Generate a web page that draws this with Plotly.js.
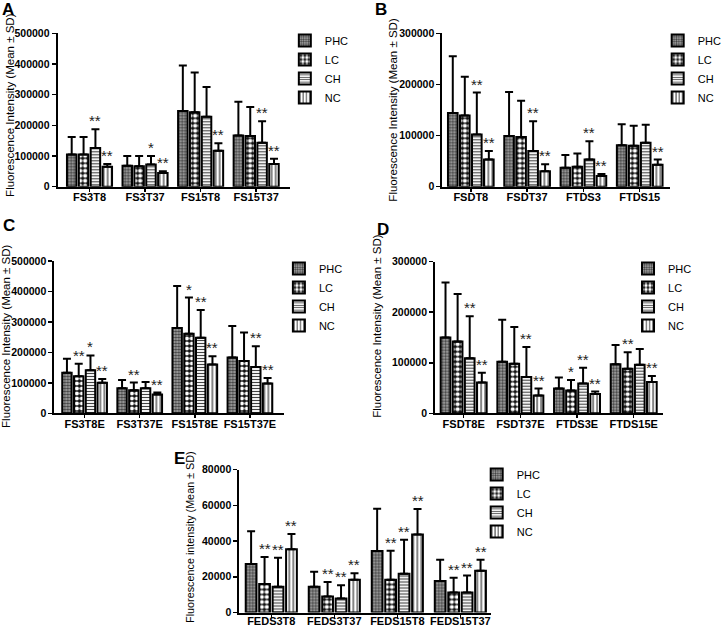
<!DOCTYPE html>
<html>
<head>
<meta charset="utf-8">
<script src="https://cdn.plot.ly/plotly-3.0.1.min.js"></script>
<style>html,body{margin:0;padding:0;background:#fff;}#chart{width:727px;height:628px;}</style>
</head>
<body>
<div id="chart"></div>
<script>
// ---------------- DATA ----------------
const groups = ['PHC', 'LC', 'CH', 'NC'];

const catsA = ['FS3T8', 'FS3T37', 'FS15T8', 'FS15T37'];
const A_PHC = [105000, 68000, 247000, 167000];
const A_PHC_sd = [57000, 32000, 148000, 110000];
const A_LC = [105000, 67000, 243000, 165000];
const A_LC_sd = [57000, 33000, 129000, 95000];
const A_CH = [126000, 72000, 228000, 143000];
const A_CH_sd = [61000, 28000, 97000, 70000];
const A_NC = [65000, 45000, 117000, 74000];
const A_NC_sd = [9000, 5000, 25000, 17000];
const A_stars = [['', '', '', ''], ['', '', '', ''], ['**', '*', '', '**'], ['**', '**', '**', '**']];

const catsB = ['FSDT8', 'FSDT37', 'FTDS3', 'FTDS15'];
const B_PHC = [144000, 99000, 37000, 81000];
const B_PHC_sd = [111000, 86000, 25000, 41000];
const B_LC = [139000, 97000, 39000, 80000];
const B_LC_sd = [76000, 71000, 26000, 39000];
const B_CH = [102000, 70000, 53000, 86000];
const B_CH_sd = [82000, 58000, 36000, 35000];
const B_NC = [53000, 30000, 21000, 43000];
const B_NC_sd = [17000, 14000, 4000, 10000];
const B_stars = [['', '', '', ''], ['', '', '', ''], ['**', '**', '**', ''], ['**', '**', '**', '**']];

const catsC = ['FS3T8E', 'FS3T37E', 'FS15T8E', 'FS15T37E'];
const C_PHC = [133000, 82000, 280000, 183000];
const C_PHC_sd = [46000, 27000, 138000, 104000];
const C_LC = [122000, 76000, 261000, 172000];
const C_LC_sd = [41000, 25000, 119000, 93000];
const C_CH = [141000, 82000, 248000, 152000];
const C_CH_sd = [49000, 21000, 91000, 68000];
const C_NC = [100000, 62000, 160000, 98000];
const C_NC_sd = [13000, 6000, 27000, 18000];
const C_stars = [['', '', '', ''], ['**', '**', '*', ''], ['*', '', '**', '**'], ['**', '**', '**', '**']];

const catsD = ['FSDT8E', 'FSDT37E', 'FTDS3E', 'FTDS15E'];
const D_PHC = [150000, 102000, 49000, 97000];
const D_PHC_sd = [109000, 83000, 22000, 38000];
const D_LC = [142000, 98000, 45000, 88000];
const D_LC_sd = [94000, 73000, 21000, 33000];
const D_CH = [109000, 72000, 59000, 96000];
const D_CH_sd = [83000, 59000, 31000, 31000];
const D_NC = [61000, 35000, 38000, 62000];
const D_NC_sd = [19000, 14000, 5000, 12000];
const D_stars = [['', '', '', ''], ['', '', '*', '**'], ['**', '**', '**', ''], ['**', '**', '**', '**']];

const catsE = ['FEDS3T8', 'FEDS3T37', 'FEDS15T8', 'FEDS15T37'];
const E_PHC = [27200, 14400, 34400, 17600];
const E_PHC_sd = [18200, 8400, 23700, 11900];
const E_LC = [15900, 8900, 18300, 11200];
const E_LC_sd = [15200, 8100, 16300, 8200];
const E_CH = [14400, 7800, 21700, 11200];
const E_CH_sd = [16200, 7400, 19000, 9500];
const E_NC = [35400, 18300, 43600, 23400];
const E_NC_sd = [8500, 3700, 14300, 6100];
const E_stars = [['', '', '', ''], ['**', '**', '**', '**'], ['**', '**', '**', '**'], ['**', '**', '**', '**']];

const yTicksA = [0, 100000, 200000, 300000, 400000, 500000];
const yTicksB = [0, 100000, 200000, 300000];
const yTicksE = [0, 20000, 40000, 60000, 80000];

// ---------------- STYLE / LAYOUT ----------------
const W = 727, H = 628;
const fx = p => p / W;
const fy = p => 1 - p / H;
const FONT = 'Liberation Sans, Arial, sans-serif';
const BARGAP = 0.146, BARGROUPGAP = 0.2;

const patterns = [
  {shape: '.', fgcolor: '#3c3c3c', bgcolor: '#b0b0b0', size: 3, solidity: 0.5},
  {shape: '.', fgcolor: '#ffffff', bgcolor: '#111111', size: 5, solidity: 0.55},
  {shape: '-', fgcolor: '#444444', bgcolor: '#f2f2f2', size: 3, solidity: 0.35},
  {shape: '|', fgcolor: '#333333', bgcolor: '#ffffff', size: 4, solidity: 0.3}
];

const panels = [
  {letter: 'A', cats: catsA, means: [A_PHC, A_LC, A_CH, A_NC], sds: [A_PHC_sd, A_LC_sd, A_CH_sd, A_NC_sd], stars: A_stars,
   yt: yTicksA, xpx: [58.3, 293.3], ypx: [186.7, 33.3], xr: [-0.573, 3.61], standoff: -4, tsize: 11.5,
   letterPos: [0, -2], titlePos: [10, 105], ytitle: 'Fluorescence Intensity (Mean ± SD)', legPos: [288, 26]},
  {letter: 'B', cats: catsB, means: [B_PHC, B_LC, B_CH, B_NC], sds: [B_PHC_sd, B_LC_sd, B_CH_sd, B_NC_sd], stars: B_stars,
   yt: yTicksB, xpx: [447.3, 677], ypx: [186.7, 33.3], xr: [-0.505, 3.53], standoff: -4, tsize: 11.5,
   letterPos: [377, -2], titlePos: [397, 110], ytitle: 'Fluorescence Intensity (Mean ± SD)', legPos: [665, 26]},
  {letter: 'C', cats: catsC, means: [C_PHC, C_LC, C_CH, C_NC], sds: [C_PHC_sd, C_LC_sd, C_CH_sd, C_NC_sd], stars: C_stars,
   yt: yTicksA, xpx: [55, 286.7], ypx: [413.3, 261], xr: [-0.548, 3.61], standoff: -4, tsize: 11.5,
   letterPos: [1, 214], titlePos: [6, 336], ytitle: 'Fluorescence Intensity (Mean ± SD)', legPos: [282, 254]},
  {letter: 'D', cats: catsD, means: [D_PHC, D_LC, D_CH, D_NC], sds: [D_PHC_sd, D_LC_sd, D_CH_sd, D_NC_sd], stars: D_stars,
   yt: yTicksB, xpx: [440, 670], ypx: [413.3, 261.7], xr: [-0.503, 3.51], standoff: -4, tsize: 11.5,
   letterPos: [379, 218], titlePos: [381, 326], ytitle: 'Fluorescence Intensity (Mean ± SD)', legPos: [635, 254]},
  {letter: 'E', cats: catsE, means: [E_PHC, E_LC, E_CH, E_NC], sds: [E_PHC_sd, E_LC_sd, E_CH_sd, E_NC_sd], stars: E_stars,
   yt: yTicksE, xpx: [242, 496.7], ypx: [612.5, 469.5], xr: [-0.507, 3.49], standoff: -6, tsize: 10.8,
   letterPos: [174, 447], titlePos: [192, 537], ytitle: 'Fluorescence intensity (Mean ± SD)', legPos: [482, 460]}
];

const traces = [];
const annotations = [];
const layout = {
  width: W, height: H,
  margin: {l: 0, r: 0, t: 0, b: 0},
  paper_bgcolor: '#ffffff', plot_bgcolor: 'rgba(0,0,0,0)',
  barmode: 'group', bargap: BARGAP, bargroupgap: BARGROUPGAP,
  showlegend: true,
  font: {family: FONT, color: '#000'}
};

const slot = (1 - BARGAP) / groups.length;

panels.forEach((p, pi) => {
  const n = pi === 0 ? '' : String(pi + 1);
  const xa = 'x' + n, ya = 'y' + n;
  const legName = 'legend' + n;
  const xIdx = p.cats.map((c, i) => i);
  groups.forEach((g, gi) => {
    traces.push({
      type: 'bar', name: g, x: xIdx, y: p.means[gi],
      xaxis: xa, yaxis: ya, legend: legName,
      marker: {color: patterns[gi].bgcolor, pattern: patterns[gi], line: {color: '#000', width: 2}},
      error_y: {type: 'data', symmetric: false, array: p.sds[gi], arrayminus: p.sds[gi].map(() => 0),
                color: '#000', thickness: 2, width: 4},
      hoverinfo: 'skip'
    });
    p.stars[gi].forEach((s, ci) => {
      if (!s) return;
      annotations.push({
        xref: xa, yref: ya, x: ci + (gi - 1.5) * slot, y: p.means[gi][ci] + p.sds[gi][ci],
        text: s, showarrow: false, xanchor: 'center', yanchor: 'bottom', yshift: -2,
        font: {family: FONT, size: 15, color: '#222'}
      });
    });
  });
  layout['xaxis' + n] = {
    domain: [fx(p.xpx[0]), fx(p.xpx[1])], range: p.xr, anchor: ya,
    tickvals: xIdx, ticktext: p.cats, ticks: 'outside', ticklen: 3, tickwidth: 1.5, tickcolor: '#000',
    ticklabelstandoff: p.standoff,
    showline: true, linecolor: '#000', linewidth: 2, showgrid: false, zeroline: false,
    tickfont: {family: FONT, size: 11, weight: 'bold', color: '#000'}, fixedrange: true
  };
  layout['yaxis' + n] = {
    domain: [fy(p.ypx[0]), fy(p.ypx[1])], range: [0, p.yt[p.yt.length - 1]], anchor: xa,
    tickvals: p.yt, tickformat: 'd', ticks: 'outside', ticklen: 4, tickwidth: 1.5, tickcolor: '#000',
    showline: true, linecolor: '#000', linewidth: 2, showgrid: false, zeroline: false,
    tickfont: {family: FONT, size: 10.5, weight: 'bold', color: '#000'}, fixedrange: true
  };
  layout[legName] = {
    x: fx(p.legPos[0]), y: fy(p.legPos[1]), xanchor: 'left', yanchor: 'top',
    bgcolor: 'rgba(0,0,0,0)', borderwidth: 0, itemwidth: 30, tracegroupgap: 0,
    font: {family: FONT, size: 11, color: '#000'}, traceorder: 'normal'
  };
  annotations.push({
    xref: 'paper', yref: 'paper', x: fx(p.letterPos[0]), y: fy(p.letterPos[1]),
    xanchor: 'left', yanchor: 'top', text: '<b>' + p.letter + '</b>', showarrow: false,
    font: {family: FONT, size: 17, color: '#000'}
  });
  annotations.push({
    xref: 'paper', yref: 'paper', x: fx(p.titlePos[0]), y: fy(p.titlePos[1]),
    xanchor: 'center', yanchor: 'middle', textangle: -90, text: p.ytitle, showarrow: false,
    font: {family: FONT, size: p.tsize, color: '#000'}
  });
});
layout.annotations = annotations;

Plotly.newPlot('chart', traces, layout, {staticPlot: true, displayModeBar: false});
</script>
</body>
</html>
